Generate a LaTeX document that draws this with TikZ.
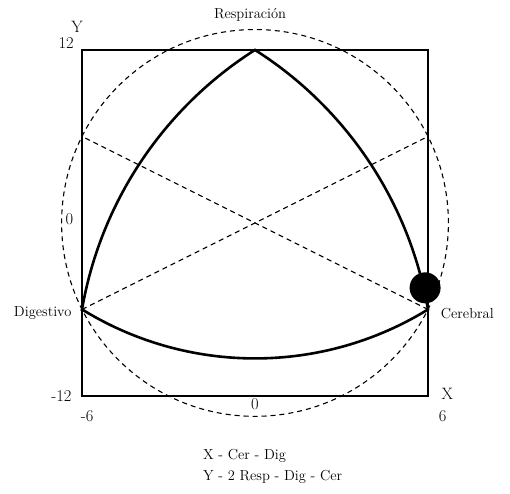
\documentclass[tikz,border=0pt]{standalone}
\usepackage{tikz}
\usetikzlibrary{arrows.meta,calc}
\tikzset{
  guide/.style={line width=1.1pt,dash pattern=on 5pt off 4pt},
  lbl/.style={font=\fontsize{14.5}{16}\selectfont,inner sep=0pt},
  axlbl/.style={font=\fontsize{16.5}{18}\selectfont,inner sep=0pt}
}

\begin{document}
\begin{tikzpicture}[x=28.83pt,y=14.42pt,>=Stealth]
  \useasboundingbox (-8.845,-18.73) rectangle (8.845,15.46);
  \coordinate (resp) at (0,12);
  \coordinate (dig) at (-6,-6);
  \coordinate (cer) at (6,-6);
  \coordinate (ul) at (-6,6);
  \coordinate (ur) at (6,6);
  % dashed circle through the two lower vertices
  \draw[guide] (0,0) circle (193.4pt);
  \draw[guide] (dig)--(ur);
  \draw[guide] (cer)--(ul);
  \draw[line width=2.6pt] (-6,-12) rectangle (6,12);
  % the three arcs between the vertices, radii in pt so that they stay
  % circular under the unequal x and y units
  \draw[line width=2.6pt,line join=miter]
    (dig) arc[start angle=170.21,end angle=122.42,radius=385pt]
          arc[start angle=57.58,end angle=9.79,radius=385pt]
          arc[start angle=-58.37,end angle=-121.63,radius=329.8pt]
    -- cycle;
  \fill (5.9,-4.5) circle (15.5pt);
  \node[lbl] (respl) at (-0.17,14.4) {Respiración};
  \node[lbl,anchor=east] (digl) at (-6.36,-6.27) {Digestivo};
  \node[lbl,anchor=west] (cerl) at (6.44,-6.27) {Cerebral};
  \node[axlbl] (ylbl) at (-6.17,13.61) {Y};
  \node[axlbl,anchor=east] (ytop) at (-6.28,12.46) {12};
  \node[axlbl,anchor=east] (ymid) at (-6.3,0.27) {0};
  \node[axlbl,anchor=east] (ybot) at (-6.36,-12) {-12};
  \node[axlbl] (xlbl) at (6.67,-11.88) {X};
  \node[axlbl] (xleft) at (-5.82,-13.43) {-6};
  \node[axlbl] (xmid) at (0,-12.55) {0};
  \node[axlbl] (xright) at (6.51,-13.43) {6};
  \node[lbl,anchor=west] (leg1) at (-1.81,-16.16) {X - Cer - Dig};
  \node[lbl,anchor=west] (leg2) at (-1.81,-17.64) {Y - 2 Resp - Dig - Cer};
\end{tikzpicture}
\end{document}
